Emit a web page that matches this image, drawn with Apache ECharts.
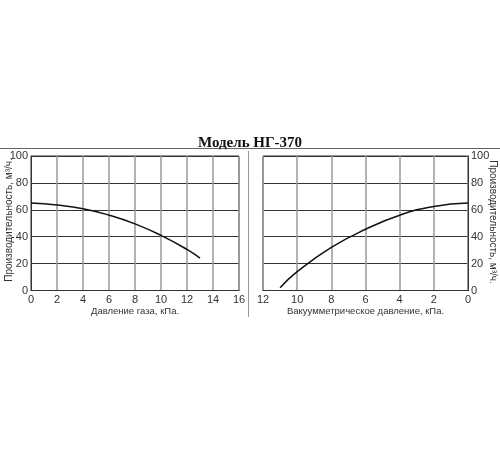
<!DOCTYPE html>
<html><head><meta charset="utf-8">
<script src="https://cdn.jsdelivr.net/npm/echarts@6/dist/echarts.min.js"></script>
<style>html,body{margin:0;padding:0;background:#fff}#c{width:500px;height:450px}</style>
</head><body><div id="c"></div>
<script>
var titleText = 'Модель НГ-370';
var yTitle = 'Производительность, м³/ч.';
var leftXTitle = 'Давление газа, кПа.';
var rightXTitle = 'Вакуумметрическое давление, кПа.';
var leftX = [0, 2, 4, 6, 8, 10, 12, 13];
var leftY = [65, 63.5, 60.8, 56, 49.5, 41, 30.5, 24];
var rightX = [11, 10, 8, 6, 4, 2, 0];
var rightY = [2, 14, 32, 45.5, 56, 62.5, 65];

var chart = echarts.init(document.getElementById('c'));
var font = 'Liberation Sans, Arial, sans-serif';
function xAx(idx, name, inverse, max){
  return {type:'value', gridIndex:idx, min:0, max:max, interval:2, inverse:inverse,
    name:name, nameLocation:'middle', nameGap:14,
    nameTextStyle:{fontFamily:font, fontSize:9.5, color:'#333'},
    axisLine:{show:true, lineStyle:{color:'#333', width:1}}, axisTick:{show:false},
    axisLabel:{fontFamily:font, fontSize:11, color:'#333', margin:4},
    splitLine:{show:true, lineStyle:{color:'#999', width:1.5}}};
}
function yAx(idx, pos){
  return {type:'value', gridIndex:idx, min:0, max:100, interval:20, position:pos,
    axisLine:{show:true, lineStyle:{color:'#333', width:1}}, axisTick:{show:false},
    axisLabel:{fontFamily:font, fontSize:11, color:'#333', margin:3},
    splitLine:{show:true, lineStyle:{color:'#333', width:1}}};
}
var nameStyle = {text:yTitle, fontFamily:font, fontSize:10, fill:'#333', align:'center', verticalAlign:'middle'};
chart.setOption({
  animation:false,
  title:{text:titleText, left:'center', top:131, textStyle:{fontFamily:'Liberation Serif, Times New Roman, serif', fontWeight:'bold', fontSize:15, color:'#111'}},
  grid:[{left:31, right:261, top:156, height:134.5, show:true, borderColor:'#333', borderWidth:1, containLabel:false, outerBoundsMode:'none'},
        {left:263, right:32, top:156, height:134.5, show:true, borderColor:'#333', borderWidth:1, containLabel:false, outerBoundsMode:'none'}],
  xAxis:[xAx(0, leftXTitle, false, 16), xAx(1, rightXTitle, true, 12)],
  yAxis:[yAx(0, 'left'), yAx(1, 'right')],
  graphic:[
    {type:'line', shape:{x1:0, y1:148.5, x2:500, y2:148.5}, style:{stroke:'#666', lineWidth:1}},
    {type:'line', shape:{x1:248.5, y1:151, x2:248.5, y2:317}, style:{stroke:'#999', lineWidth:1}},
    {type:'text', x:9, y:220, rotation:Math.PI/2, style:nameStyle},
    {type:'text', x:493, y:222, rotation:-Math.PI/2, style:nameStyle}
  ],
  series:[
    {type:'line', xAxisIndex:0, yAxisIndex:0, data:leftX.map(function(x,i){return [x,leftY[i]];}), smooth:true, showSymbol:false, lineStyle:{color:'#111', width:1.5}},
    {type:'line', xAxisIndex:1, yAxisIndex:1, data:rightX.map(function(x,i){return [x,rightY[i]];}), smooth:true, showSymbol:false, lineStyle:{color:'#111', width:1.5}}
  ]
});
</script></body></html>
